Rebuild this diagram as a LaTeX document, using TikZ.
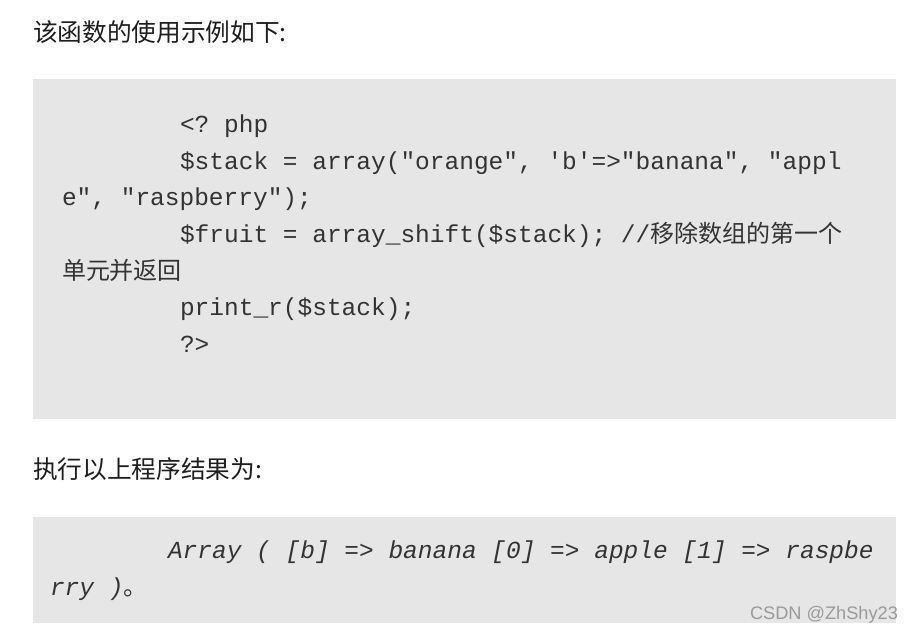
\documentclass[tikz,border=0pt]{standalone}
\usepackage{fontspec}
\setmonofont{Liberation Mono}
\newfontfamily\cjk{Noto Sans CJK SC}
\newfontfamily\wmfont{Liberation Sans}
\definecolor{boxgray}{HTML}{E6E6E6}
\definecolor{headcol}{HTML}{1E1E1E}
\definecolor{codecol}{HTML}{333333}
\definecolor{wmcol}{HTML}{9A9A9A}
\tikzset{
  txt/.style={inner sep=0pt,outer sep=0pt,anchor=base west},
  heading/.style={txt,text=headcol,font=\cjk\fontsize{24.7}{30}\selectfont},
  code/.style={txt,text=codecol,font=\ttfamily\fontsize{24.5}{30}\selectfont},
  result/.style={txt,text=codecol,font=\ttfamily\itshape\fontsize{24.5}{30}\selectfont},
  codebox/.style={fill=boxgray,draw=none}
}
\newcommand{\cj}[1]{{\cjk\fontsize{24}{30}\selectfont #1}}
\begin{document}
\begin{tikzpicture}[x=1pt,y=-1pt]
\useasboundingbox (0,0) rectangle (914,633);
\fill[white] (0,0) rectangle (914,633);
\fill[codebox] (33,79) rectangle (896,419);
\fill[codebox] (33,517) rectangle (896,623);

\node[heading] (h1) at (33,41) {该函数的使用示例如下:};

\node[code] (l1) at (180,132.5) {<? php};
\node[code] (l2) at (180,169.2) {\$stack = array("orange", 'b'=>"banana", "appl};
\node[code] (l3) at (62,205.8) {e", "raspberry");};
\node[code] (l4) at (180,242.5) {\$fruit = array\_shift(\$stack); //\cj{移除数组的第一个}};
\node[code] (l5) at (62,279.2) {\cj{单元并返回}};
\node[code] (l6) at (180,315.8) {print\_r(\$stack);};
\node[code] (l7) at (180,352.5) {?>};

\node[heading] (h2) at (33,478) {执行以上程序结果为:};

\node[result] (r1) at (168,558) {Array ( [b] => banana [0] => apple [1] => raspbe};
\node[result] (r2) at (50,595) {rry )\cj{。}};

\node[txt,text=wmcol,font=\wmfont\fontsize{18.2}{22}\selectfont] (wm) at (750,619) {CSDN @ZhShy23};
\end{tikzpicture}
\end{document}
